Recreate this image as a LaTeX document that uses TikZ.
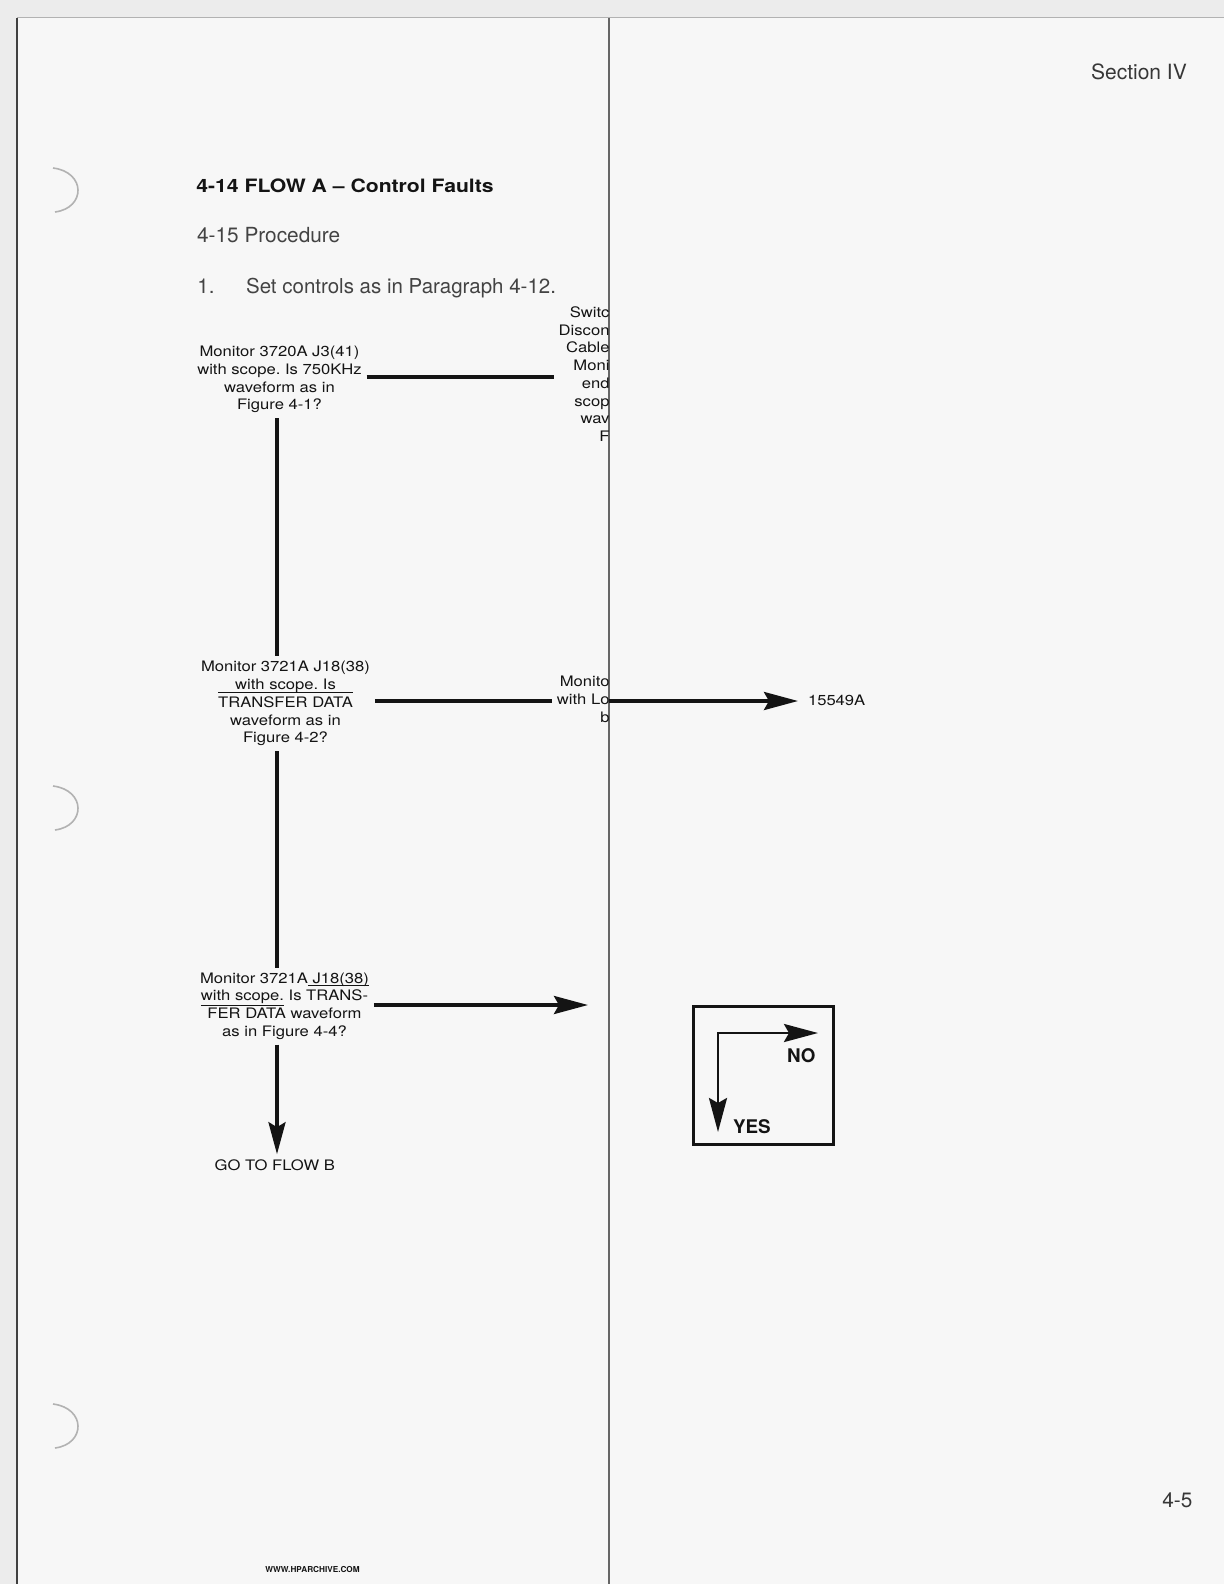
\documentclass[tikz,border=0pt]{standalone}
\usepackage{fontspec}
\setmainfont{TeX Gyre Heros}
\newfontfamily\flowfont{TeX Gyre Heros}[FakeStretch=1.15]
\usetikzlibrary{arrows.meta}
\definecolor{paper}{RGB}{247,247,247}
\definecolor{scan}{RGB}{236,236,236}
\definecolor{ink}{RGB}{20,20,20}
\frenchspacing
\newcommand{\myover}[1]{\setbox0\hbox{#1}\rlap{\raisebox{7pt}[0pt][0pt]{\rule{\wd0}{0.55pt}}}\box0\relax}
\newcommand{\myunder}[2]{\setbox0\hbox{#2}\rlap{\raisebox{-#1}[0pt][0pt]{\rule{\wd0}{0.55pt}}}\box0\relax}
\begin{document}
\begin{tikzpicture}[x=0.5pt,y=-0.5pt,
  flow/.style={font=\flowfont\fontsize{7.23}{8.9}\selectfont, align=center, inner sep=0pt, outer sep=2.5pt, text=ink},
  frag/.style={font=\flowfont\fontsize{7.23}{8.85}\selectfont, align=right, inner sep=0pt, outer sep=2.5pt, text=ink, anchor=north east},
  conn/.style={line width=1.8pt, draw=ink},
  arr/.style={conn, -{Stealth[length=17pt,width=9pt,inset=2.5pt]}},
  hdr/.style={inner sep=0pt, anchor=base west, text=ink},
  hole/.style={draw=black!30, line width=0.8pt}]
\useasboundingbox (0,0) rectangle (1224,1584);
% paper and scan margins
\fill[paper] (0,0) rectangle (1224,1584);
\fill[scan] (0,0) rectangle (1224,18);
\fill[scan] (0,18) rectangle (17,1584);
\draw[black!30, line width=0.5pt] (17,18) -- (1224,18);
\draw[black!75, line width=1pt] (17,18) -- (17,1584);
\draw[black!60, line width=0.6pt] (609,18) -- (609,1584);
% punch holes
\draw[hole] (53,168) .. controls (86,172) and (86,208) .. (55,212);
\draw[hole] (53,786) .. controls (86,790) and (86,826) .. (55,830);
\draw[hole] (53,1404) .. controls (86,1408) and (86,1444) .. (55,1448);

% headings
\node[hdr, font=\fontsize{10.5}{12}\selectfont, text=ink!85] (sec) at (1090.7,79.3) {Section IV};
\node[hdr, font=\flowfont\bfseries\fontsize{9.2}{11}\selectfont] (title) at (196,192.3) {4-14 FLOW A – Control Faults};
\node[hdr, font=\fontsize{10.4}{12}\selectfont, text=ink!80] (proc) at (196.7,242.7) {4-15 Procedure};
\node[hdr, font=\fontsize{10.25}{12}\selectfont, text=ink!80] (step1) at (197,293.3) {\makebox[24.35pt][l]{1.}Set controls as in Paragraph 4-12.};

% flow boxes
\node[flow] (b1) at (279.5,379.5) {Monitor 3720A J3(41)\\with scope. Is 750KHz\\waveform as in\\Figure 4-1?};
\node[flow] (b2) at (285.5,703.6) {Monitor 3721A J18(38)\\with scope. Is\\\myover{TRANSFER DATA}\\waveform as in\\Figure 4-2?};
\node[flow] (b3) at (284.5,1006.1) {Monitor 3721A\myunder{1.6pt}{ J18(38)}\\\myunder{2.5pt}{with scope.} Is TRANS-\\FER DATA waveform\\as in Figure 4-4?};

% fragments cut by the fold
\begin{scope}
\clip (0,0) rectangle (609,1584);
\node[frag] (sw) at (614.5,301.7) {Switc\\Discon\\Cable\\Moni\\end\\scop\\wav\\F};
\node[frag] (m2) at (614.5,671.1) {Monito\\with Lo\\b};
\end{scope}

\node[flow, anchor=base west, outer sep=5pt] (n15549) at (798,705) {15549A};
\node[flow, anchor=base] (go) at (274.8,1170) {GO TO FLOW B};

% helper coordinates
\coordinate (r1) at (0,377);
\coordinate (r2) at (0,701);
\coordinate (r3) at (0,1005);
\coordinate (vx) at (277,0);
\coordinate (fold) at (609,0);
\coordinate (a3) at (588,1005);

% connectors
\draw[conn] (b1.east |- r1) -- (sw.west |- r1);
\draw[conn] (b1.south -| vx) -- (b2.north -| vx);
\draw[conn] (b2.east |- r2) -- (m2.west |- r2);
\draw[arr] (fold |- r2) -- (n15549.west |- r2);
\draw[conn] (b2.south -| vx) -- (b3.north -| vx);
\draw[arr] (b3.east |- r3) -- (a3);
\draw[conn, -{Stealth[length=16pt,width=8.5pt,inset=2.5pt]}] (b3.south -| vx) -- (go.north -| vx);

% legend
\node[draw=ink, line width=1.7pt, minimum width=69.8pt, minimum height=68.8pt, inner sep=0pt] (legend) at (763.5,1075.5) {};
\coordinate (lc) at (718,1033);
\coordinate (lno) at (818,1033);
\coordinate (lyes) at (718,1132);
\draw[draw=ink, line width=1.4pt, line join=miter, {Stealth[length=17pt,width=9pt,inset=2.5pt]}-{Stealth[length=17pt,width=9pt,inset=2.5pt]}] (lyes) -- (lc) -- (lno);
\node[hdr, font=\bfseries\fontsize{9.4}{11}\selectfont] (no) at (786.7,1062.7) {NO};
\node[hdr, font=\bfseries\fontsize{9.4}{11}\selectfont] (yes) at (732.7,1133.3) {YES};

% footer
\node[hdr, font=\fontsize{10.4}{12}\selectfont, text=ink!85] (pg) at (1162,1507.3) {4-5};
\node[anchor=base, inner sep=0pt, text=ink, font=\bfseries\fontsize{4.1}{5}\selectfont] (www) at (312.5,1572) {WWW.HPARCHIVE.COM};
\end{tikzpicture}
\end{document}
